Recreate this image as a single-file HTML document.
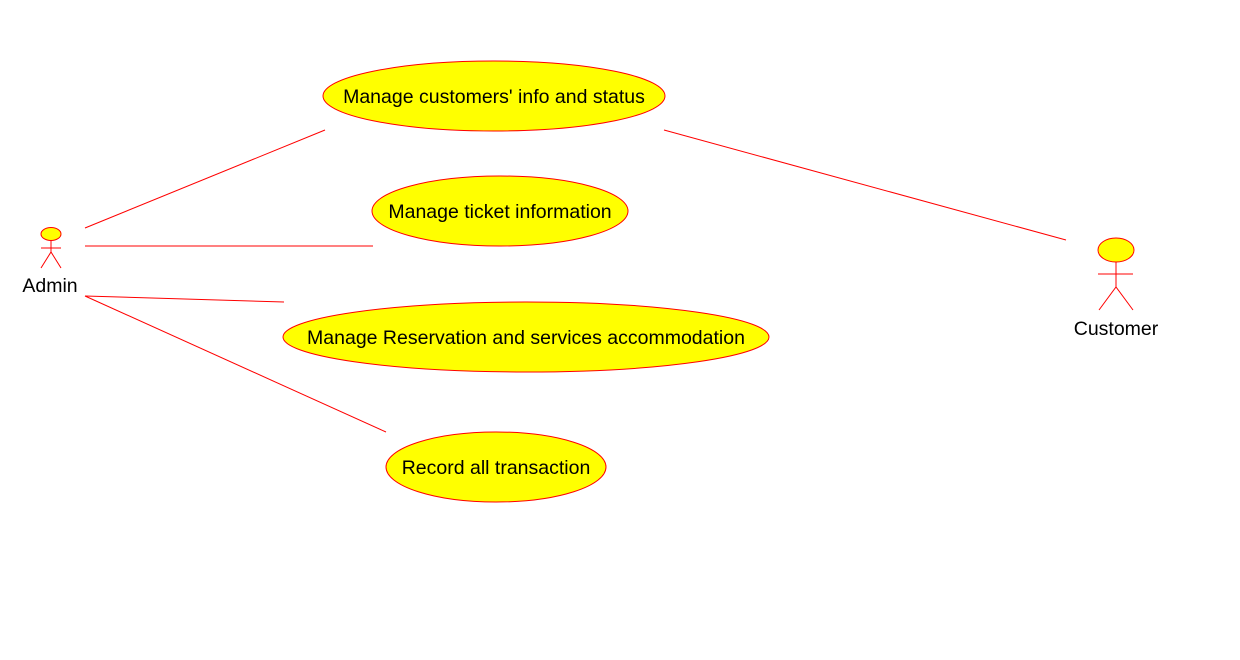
<!DOCTYPE html>
<html><head><meta charset="utf-8"><style>body{margin:0;background:#fff}svg{display:block}</style></head><body>
<svg width="1240" height="660" xmlns="http://www.w3.org/2000/svg" font-family="Liberation Sans, Arial, sans-serif" font-size="19.5">
<g stroke="#ff0000" stroke-width="1" fill="none">
<line x1="85" y1="228" x2="325" y2="130"/>
<line x1="85" y1="246" x2="373" y2="246"/>
<line x1="85" y1="296" x2="284" y2="302"/>
<line x1="85" y1="296" x2="386" y2="432"/>
<line x1="664" y1="130" x2="1066" y2="240"/>
</g>
<g stroke="#ff0000" stroke-width="1" fill="#ffff00">
<ellipse cx="494" cy="96" rx="171" ry="35"/>
<ellipse cx="500" cy="211" rx="128" ry="35"/>
<ellipse cx="526" cy="337" rx="243" ry="35"/>
<ellipse cx="496" cy="467" rx="110" ry="35"/>
<ellipse cx="51" cy="234" rx="10" ry="6.5"/>
<ellipse cx="1116" cy="250" rx="18" ry="12"/>
</g>
<g stroke="#ff0000" stroke-width="1" fill="none">
<path d="M51 241V252M41 248H61M41 268L51 252L61 268"/>
<path d="M1116 262V287M1098 274H1133M1099 310L1116 287L1133 310"/>
</g>
<g fill="#000" text-anchor="middle">
<text x="494" y="103">Manage customers' info and status</text>
<text x="500" y="218">Manage ticket information</text>
<text x="526" y="344">Manage Reservation and services accommodation</text>
<text x="496" y="474">Record all transaction</text>
<text x="50" y="292">Admin</text>
<text x="1116" y="335">Customer</text>
</g>
</svg>
</body></html>
